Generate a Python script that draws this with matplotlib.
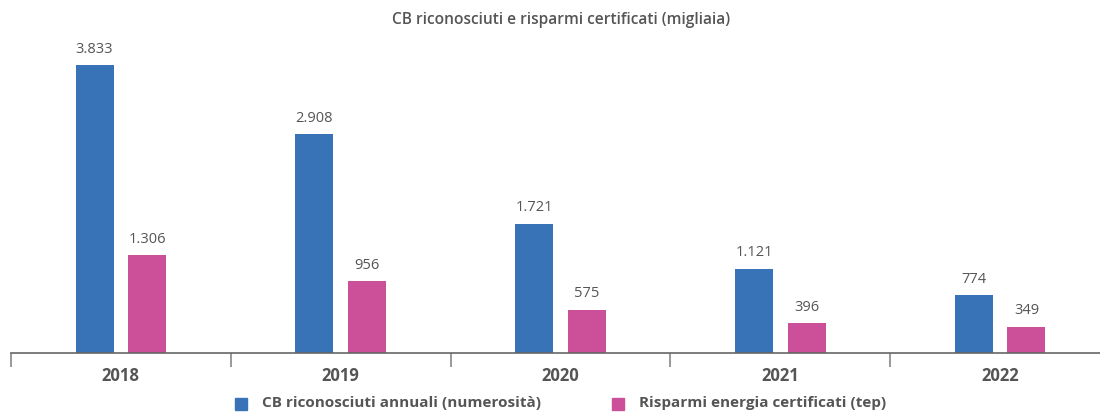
import matplotlib
matplotlib.use("Agg")
import matplotlib.pyplot as plt
import numpy as np
from matplotlib.patches import Rectangle

years = ["2018", "2019", "2020", "2021", "2022"]
cb_values = [3833, 2908, 1721, 1121, 774]
tep_values = [1306, 956, 575, 396, 349]
cb_labels = ["3.833", "2.908", "1.721", "1.121", "774"]
tep_labels = ["1.306", "956", "575", "396", "349"]
series_names = ["CB riconosciuti annuali (numerosità)", "Risparmi energia certificati (tep)"]
title = "CB riconosciuti e risparmi certificati (migliaia)"

BLUE = "#3873B8"
PINK = "#CB5099"
GRAY = "#555555"

plt.rcParams['font.family'] = ['Open Sans', 'DejaVu Sans']

W, H = 1100, 412
fig = plt.figure(figsize=(W / 100, H / 100), dpi=100)
left, right = 11, 1110
bottom_px, top_px = 353, 40
ax = fig.add_axes([left / W, 1 - bottom_px / H, (right - left) / W, (bottom_px - top_px) / H])

x = np.arange(len(years))
bw = 0.173
off = 0.12
ax.bar(x - off, cb_values, width=bw, color=BLUE)
ax.bar(x + off, tep_values, width=bw, color=PINK)

ax.set_xlim(-0.5, 4.5)
ax.set_ylim(0, 313 / 0.07514)

for xi, v, lab in zip(x, cb_values, cb_labels):
    ax.annotate(lab, (xi - off, v), xytext=(0, 6), textcoords="offset points",
                ha="center", va="bottom", fontsize=10.5, color=GRAY)
for xi, v, lab in zip(x, tep_values, tep_labels):
    ax.annotate(lab, (xi + off, v), xytext=(0, 6), textcoords="offset points",
                ha="center", va="bottom", fontsize=10.5, color=GRAY)

for s in ["top", "right", "left"]:
    ax.spines[s].set_visible(False)
ax.spines["bottom"].set_color("#666666")
ax.spines["bottom"].set_linewidth(1.2)
ax.set_yticks([])
ax.set_xticks(np.arange(-0.5, 4.6, 1), minor=False)
ax.set_xticklabels([])
ax.tick_params(axis="x", length=10, color="#888888", width=1.2)
for xi, y in zip(x, years):
    ax.text(xi, -0.075, y, transform=ax.get_xaxis_transform(), ha="center", va="center",
            fontsize=12, fontweight="bold", color=GRAY)

fig.text(561 / W, 1 - 20 / H, title, ha="center", va="center", fontsize=11.2,
         fontweight="semibold", color=GRAY)

# legend
for sx, tx, col, name in [(235, 262, BLUE, series_names[0]), (612, 639, PINK, series_names[1])]:
    fig.patches.append(Rectangle((sx / W, 1 - 410 / H), 12 / W, 12 / H, transform=fig.transFigure,
                                 color=col))
    fig.text(tx / W, 1 - 403 / H, name, ha="left", va="center", fontsize=11,
             fontweight="bold", color=GRAY)

fig.savefig("out.png", dpi=100)
